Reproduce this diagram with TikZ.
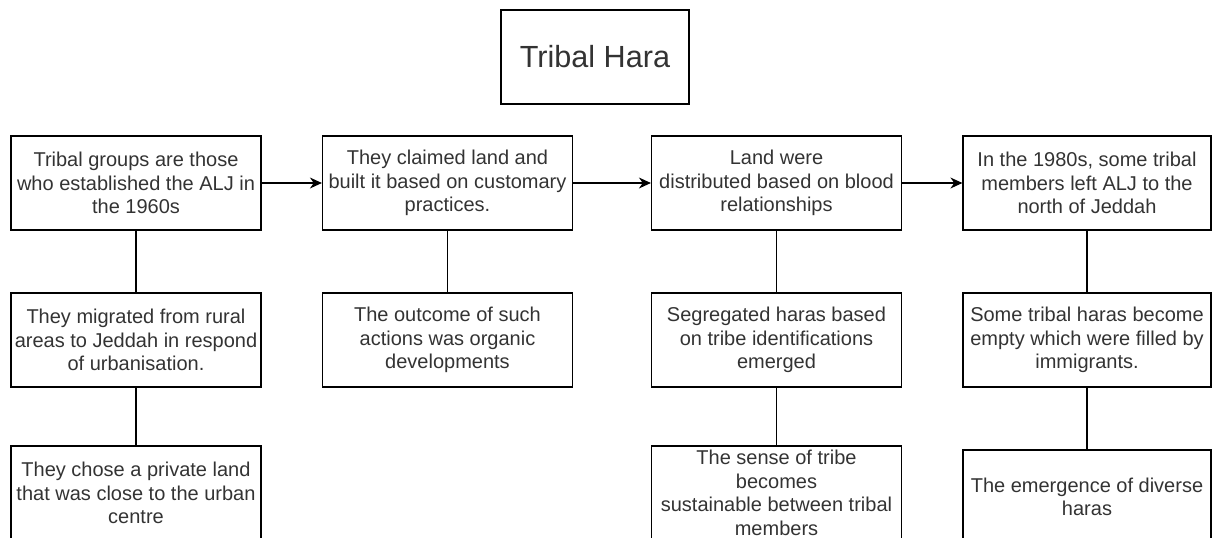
\documentclass[tikz,border=0pt]{standalone}
\usepackage{fontspec}
\setmainfont{Liberation Sans}
\usetikzlibrary{arrows.meta}
\definecolor{txtgray}{HTML}{333333}

\begin{document}
\begin{tikzpicture}[x=0.5pt, y=-0.5pt,
  box/.style={rectangle, draw, line width=0.6pt, minimum width=125pt, minimum height=47pt,
    inner sep=1pt, align=center, text=txtgray, font=\fontsize{10}{11.8}\selectfont},
  >={Stealth[length=6pt, width=5.5pt]}]
  \useasboundingbox (0,0) rectangle (1212,537);
  \clip (0,0) rectangle (1212,537);
  % Header
  \node (title) [box, minimum width=94pt, font=\fontsize{15.3}{18}\selectfont] at (595,57) {Tribal Hara};
  % Nodes
  \node (groups) [box] at (136,183) {Tribal groups are those\\who established the ALJ in\\the 1960s};
  \node (claimed) [box] at (447.5,183) {They claimed land and\\built it based on customary\\practices.};
  \node (land) [box] at (776.5,183) {Land were\\distributed based on blood\\relationships};
  \node (left) [box, minimum width=124pt] at (1087,183) {In the 1980s, some tribal\\members left ALJ to the\\north of Jeddah};
  \node (migrated) [box] at (136,340) {They migrated from rural\\areas to Jeddah in respond\\of urbanisation.};
  \node (outcome) [box] at (447.5,340) {The outcome of such\\actions was organic\\developments};
  \node (segregated) [box] at (776.5,340) {Segregated haras based\\on tribe identifications\\emerged};
  \node (empty) [box, minimum width=124pt] at (1087,340) {Some tribal haras become\\empty which were filled by\\immigrants.};
  \node (private) [box] at (136,493) {They chose a private land\\that was close to the urban\\centre};
  \node (sense) [box] at (776.5,493) {The sense of tribe\\becomes\\sustainable between tribal\\members};
  \node (diverse) [box, minimum width=124pt] at (1087,497) {The emergence of diverse\\haras};
  % Arrow
  \draw[->, line width=0.6pt] (groups) -- (claimed);
  \draw[->, line width=0.6pt] (claimed) -- (land);
  \draw[->, line width=0.6pt] (land) -- (left);
  % Lines
  \draw[line width=0.6pt] (groups) -- (migrated);
  \draw[line width=0.6pt] (migrated) -- (private);
  \draw[line width=0.6pt] (claimed) -- (outcome);
  \draw[line width=0.6pt] (land) -- (segregated);
  \draw[line width=0.6pt] (segregated) -- (sense);
  \draw[line width=0.6pt] (left) -- (empty);
  \draw[line width=0.6pt] (empty) -- (diverse);
\end{tikzpicture}
\end{document}
